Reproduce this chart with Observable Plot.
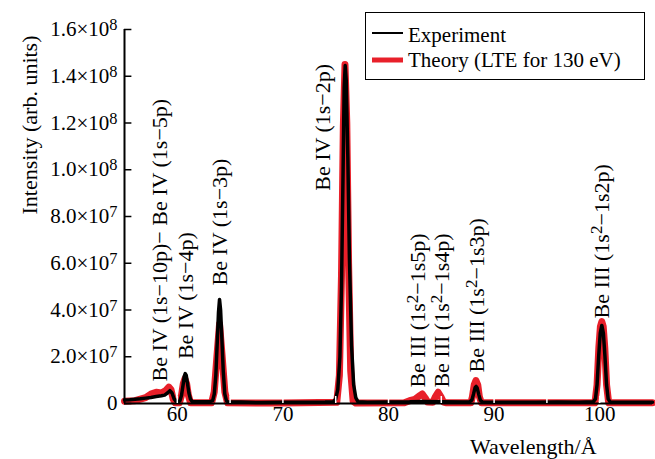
<!DOCTYPE html>
<html>
<head>
<meta charset="utf-8">
<script src="https://cdn.jsdelivr.net/npm/d3@7"></script>
<script src="https://cdn.jsdelivr.net/npm/@observablehq/plot@0.6"></script>
<style>
  body { margin: 0; background: white; }
  #chart { position: relative; width: 655px; height: 459px; }
</style>
</head>
<body>
<div id="chart"></div>
<script>
// Experiment (black) — wavelength (Å) and intensity (arb. units)
const expWl = [55.0, 55.5, 56.0, 56.5, 57.0, 57.5, 58.0, 58.5, 58.8, 59.1, 59.3, 59.5, 59.7, 59.9, 60.1,
  60.25, 60.4, 60.55, 60.65, 60.75, 60.85, 60.95, 61.1, 61.25, 61.4, 62.0, 63.0, 63.35,
  63.5, 63.65, 63.8, 63.9, 64.0, 64.1, 64.2, 64.35, 64.5, 64.65, 64.8,
  66.0, 68.0, 70.0, 72.0, 74.0, 74.8,
  75.0, 75.2, 75.4, 75.55, 75.7, 75.8, 75.9, 76.0, 76.15, 76.3, 76.5, 76.7, 76.9, 77.1,
  78.0, 80.0, 82.0, 83.3, 85.0, 87.0, 87.7,
  87.9, 88.05, 88.2, 88.3, 88.4, 88.55, 88.7, 88.9,
  90.0, 92.0, 94.0, 96.0, 98.0, 99.4,
  99.6, 99.75, 99.9, 100.05, 100.2, 100.35, 100.5, 100.65, 100.8, 101.0,
  102.0, 104.0, 105.0];
const expI = [1.5e6, 1.6e6, 1.8e6, 2.0e6, 2.3e6, 2.6e6, 3.0e6, 3.3e6, 3.6e6, 4.6e6, 5.5e6, 4.5e6, 2.0e6, 0.8e6, 0.8e6,
  1.2e6, 3.5e6, 8.0e6, 11.5e6, 12.8e6, 12.0e6, 9.0e6, 4.5e6, 1.8e6, 0.9e6, 0.7e6, 0.7e6, 1.2e6,
  4e6, 12e6, 28e6, 39e6, 44.5e6, 40e6, 30e6, 14e6, 4e6, 1.2e6, 0.6e6,
  0.6e6, 0.4e6, 0.5e6, 0.5e6, 0.6e6, 0.8e6,
  2e6, 6e6, 20e6, 50e6, 100e6, 135e6, 144.6e6, 138e6, 105e6, 62e6, 25e6, 8e6, 2.5e6, 0.8e6,
  0.5e6, 0.6e6, 0.7e6, 0.9e6, 0.8e6, 0.6e6, 0.8e6,
  1.5e6, 4e6, 6.8e6, 7.3e6, 6.6e6, 3.8e6, 1.4e6, 0.6e6,
  0.5e6, 0.5e6, 0.5e6, 0.6e6, 0.5e6, 0.8e6,
  2e6, 8e6, 20e6, 30e6, 33.4e6, 30e6, 20e6, 8e6, 2e6, 0.6e6,
  0.5e6, 0.5e6, 0.5e6];

// Theory, LTE for 130 eV (red)
const theoWl = [55.0, 56.0, 57.0, 57.5, 58.0, 58.5, 58.9, 59.2, 59.4, 59.6, 59.8, 60.05,
  60.2, 60.4, 60.57, 60.72, 60.88, 61.05, 61.25,
  63.25, 63.5, 63.75, 64.0, 64.25, 64.5, 64.75,
  70.0, 75.1, 75.35, 75.55, 75.72, 75.88, 76.05, 76.22, 76.42, 76.65, 76.9,
  81.5, 82.0, 82.5, 83.0, 83.2, 83.45, 83.7, 84.2, 84.45, 84.7, 84.95, 85.2, 85.5,
  87.8, 87.95, 88.12, 88.28, 88.45, 88.6, 88.8,
  99.55, 99.75, 99.92, 100.07, 100.2, 100.33, 100.48, 100.65, 100.85, 105.0];
const theoI = [1.0e6, 1.2e6, 2.5e6, 4.0e6, 4.8e6, 4.5e6, 5.5e6, 7.0e6, 6.0e6, 2.0e6, 0.3e6, 0.3e6,
  0.3e6, 3.5e6, 8.5e6, 10.5e6, 8.5e6, 3.5e6, 0.3e6,
  0.3e6, 5e6, 20e6, 34e6, 20e6, 5e6, 0.3e6,
  0.2e6, 0.5e6, 12e6, 55e6, 118e6, 145e6, 120e6, 60e6, 14e6, 1e6, 0.2e6,
  0.3e6, 1.2e6, 1.8e6, 3.5e6, 4.1e6, 2.5e6, 0.6e6, 0.5e6, 3.0e6, 4.8e6, 3.0e6, 0.6e6, 0.3e6,
  0.3e6, 3e6, 8e6, 9.8e6, 8e6, 3e6, 0.3e6,
  0.3e6, 8e6, 24e6, 33e6, 35e6, 33e6, 24e6, 8e6, 0.3e6, 0.3e6];

// Line annotations
const annText = ["Be IV (1s−10p)− Be IV (1s−5p)", "Be IV (1s−4p)", "Be IV (1s−3p)", "Be IV (1s−2p)",
  "Be III (1s^2−1s5p)", "Be III (1s^2−1s4p)", "Be III (1s^2−1s3p)", "Be III (1s^2−1s2p)"];
const annWl = [58.4, 60.86, 64.08, 73.8, 82.8, 85.05, 88.35, 100.2];
const annI = [9.4e6, 1.9e7, 5.05e7, 9.1e7, 6.8e6, 6.8e6, 1.33e7, 3.64e7];

// Ticks
const xTicks = [60, 70, 80, 90, 100];
const xMinorTicks = [60, 65, 70, 75, 80, 85, 90, 95, 100];
const yTicks = [0, 2e7, 4e7, 6e7, 8e7, 1e8, 1.2e8, 1.4e8, 1.6e8];
const yTickLabels = ["0", "2.0×10^7", "4.0×10^7", "6.0×10^7", "8.0×10^7", "1.0×10^8", "1.2×10^8", "1.4×10^8", "1.6×10^8"];

const seriesNames = ["Experiment", "Theory (LTE for 130 eV)"];
const RED = "#e8202a";
const FONT = "'Liberation Serif', 'Times New Roman', serif";

const exp = expWl.map((x, i) => ({x, y: expI[i]}));
const theo = theoWl.map((x, i) => ({x, y: theoI[i]}));
const ann = annText.map((t, i) => ({x: annWl[i], y: annI[i], t}));

const svg = Plot.plot({
  width: 655, height: 459,
  marginLeft: 124, marginRight: 3, marginTop: 29, marginBottom: 56,
  style: {fontFamily: FONT, fontSize: "21px", background: "white", color: "black", overflow: "visible"},
  x: {domain: [55, 105]},
  y: {domain: [0, 1.6e8]},
  marks: [
    Plot.line(theo, {x: "x", y: "y", stroke: RED, strokeWidth: 7, strokeLinejoin: "round", strokeLinecap: "round"}),
    Plot.line(exp, {x: "x", y: "y", stroke: "black", strokeWidth: 3.5, strokeLinejoin: "round"}),
    Plot.ruleY([0], {stroke: "black", strokeWidth: 2}),
    Plot.ruleX(xMinorTicks, {y1: 0, y2: 3e6, stroke: "white", strokeWidth: 1.5}),
    Plot.ruleX([55], {y1: 0, y2: 1.6e8, stroke: "black", strokeWidth: 2}),
    Plot.ruleY(yTicks, {x1: 55, x2: 55.7, stroke: "black", strokeWidth: 1.5}),
    Plot.axisY({ticks: yTicks, tickFormat: d => yTickLabels[yTicks.indexOf(d)], tickSize: 0, tickPadding: 7, label: null, fontSize: 21}),
    Plot.axisX({ticks: xTicks, tickFormat: d => String(d), tickSize: 0, tickPadding: 3, label: null, fontSize: 21}),
    Plot.text(ann, {x: "x", y: "y", text: "t", rotate: -90, textAnchor: "start", lineAnchor: "middle", fontSize: 22})
  ]
});

// superscripts
const NS = "http://www.w3.org/2000/svg";
svg.querySelectorAll("text").forEach(t => {
  const s = t.textContent;
  if (!s.includes("^")) return;
  const target = t.querySelector("tspan") || t;
  const parts = s.split(/\^(\d)/);
  target.textContent = "";
  parts.forEach((p, i) => {
    if (p === "") return;
    const ts = document.createElementNS(NS, "tspan");
    ts.textContent = p;
    if (i % 2 === 1) {
      ts.setAttribute("baseline-shift", "40%");
      ts.setAttribute("font-size", "0.78em");
    }
    target.appendChild(ts);
  });
});

const g = d3.select(svg).append("g").attr("font-family", FONT).attr("fill", "black").attr("text-anchor", "start");
// axis titles
g.append("text").attr("transform", "translate(37,125) rotate(-90)").attr("text-anchor", "middle")
  .attr("font-size", 22).text("Intensity (arb. units)");
g.append("text").attr("x", 470).attr("y", 454).attr("font-size", 22).text("Wavelength/Å");
// legend
g.append("rect").attr("x", 365.5).attr("y", 12.5).attr("width", 279).attr("height", 67)
  .attr("fill", "white").attr("stroke", "black").attr("stroke-width", 1);
g.append("line").attr("x1", 372).attr("x2", 403).attr("y1", 33).attr("y2", 33).attr("stroke", "black").attr("stroke-width", 2);
g.append("line").attr("x1", 372).attr("x2", 403).attr("y1", 60).attr("y2", 60).attr("stroke", RED).attr("stroke-width", 5);
g.append("text").attr("x", 408).attr("y", 41.5).attr("font-size", 21).text(seriesNames[0]);
g.append("text").attr("x", 408).attr("y", 67).attr("font-size", 21).text(seriesNames[1]);

document.getElementById("chart").appendChild(svg);
</script>
</body>
</html>
